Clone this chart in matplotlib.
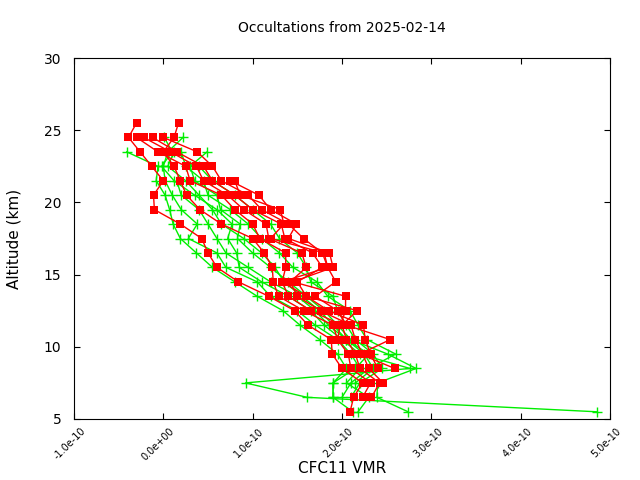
import numpy as np
import matplotlib
matplotlib.use("Agg")
import matplotlib.pyplot as plt
from matplotlib.ticker import FuncFormatter
import matplotlib.transforms as mtransforms

nan = np.nan
# altitude levels (km), top to bottom
alts = [25.5, 24.5, 23.5, 22.5, 21.5, 20.5, 19.5, 18.5, 17.5, 16.5, 15.5,
        14.5, 13.5, 12.5, 11.5, 10.5, 9.5, 8.5, 7.5, 6.5, 5.5]

# CFC11 VMR in units of 1e-10, one list per profile (nan = no data)
red_p0 = [-0.30, -0.39, -0.26, -0.13, 0.00, -0.11, -0.10, 0.19, 0.43, 0.50, 0.60,
          0.84, 1.18, 1.47, 1.62, 1.88, 1.89, 2.00, 2.23, 2.13, 2.09]
red_p1 = [0.17, 0.12, 0.00, 0.12, 0.19, 0.26, 0.41, 0.65, 1.00, 1.13, 1.22,
          1.23, 1.29, 1.57, 1.90, 1.95, 2.07, 2.10, 2.32, 2.23, nan]
red_p2 = [nan, -0.30, -0.06, 0.25, 0.30, 0.65, 0.80, 1.00, 1.08, 1.37, 1.37,
          1.33, 1.40, 1.65, 2.00, 2.05, 2.15, 2.20, 2.42, 2.33, nan]
red_p3 = [nan, -0.22, 0.08, 0.37, 0.45, 0.72, 0.90, 1.15, 1.18, 1.55, 1.60,
          1.42, 1.50, 1.76, 2.10, 2.15, 2.23, 2.30, 2.46, nan, nan]
red_p4 = [nan, -0.12, 0.15, 0.45, 0.55, 0.80, 1.00, 1.32, 1.36, 1.67, 1.78,
          1.50, 1.60, 1.85, 2.24, 2.26, 2.32, 2.40, nan, nan, nan]
red_p5 = [nan, 0.00, 0.38, 0.55, 0.65, 0.95, 1.10, 1.40, 1.57, 1.78, 1.84,
          1.93, 1.70, 1.95, 2.05, 2.54, 2.20, 2.59, nan, nan, nan]
red_p6 = [nan, nan, nan, nan, 0.75, 1.07, 1.20, 1.49, 1.40, 1.86, 1.90,
          1.45, 2.04, 2.04, 1.98, 1.95, nan, nan, nan, nan, nan]
red_p7 = [nan, nan, nan, nan, 0.80, 0.86, 1.31, 1.35, 1.20, 1.80, 1.84,
          1.33, 1.60, 2.17, 2.00, nan, nan, nan, nan, nan, nan]

green_p0 = [nan, nan, -0.41, -0.06, -0.08, 0.02, 0.07, 0.11, 0.19, 0.37, 0.55,
            0.80, 1.05, 1.34, 1.53, 1.75, 1.95, 2.05, 1.90, 1.90, 2.12]
green_p1 = [nan, 0.22, 0.05, 0.00, 0.02, 0.10, 0.20, 0.38, 0.28, 0.60, 0.70,
            1.05, 1.20, 1.50, 1.70, 1.95, 2.10, 2.20, 2.05, 2.30, 2.18]
green_p2 = [nan, 0.01, 0.10, -0.02, 0.12, 0.35, 0.60, 0.77, 0.72, 0.82, 0.85,
            1.10, 1.40, 1.65, 1.80, 2.00, 2.20, 2.76, 0.92, 1.61, 4.85]
green_p3 = [nan, nan, 0.49, 0.30, 0.35, 0.60, 0.64, 0.86, 0.83, 1.00, 1.20,
            1.40, 1.60, 1.80, 1.95, 2.10, 2.51, 2.83, 2.40, 2.39, 2.74]
green_p4 = [nan, nan, 0.20, 0.25, 0.45, 0.50, 0.75, 0.95, 1.10, 1.30, 1.45,
            1.72, 1.84, 2.09, 2.18, 2.28, 2.60, 2.30, 2.10, 2.00, nan]
green_p5 = [nan, nan, nan, 0.40, 0.55, 0.80, 1.00, 1.20, 1.30, 1.50, 1.60,
            1.65, 1.90, 1.95, 2.05, 2.15, 2.35, 2.45, 2.20, 2.10, nan]
green_p6 = [nan, nan, nan, nan, 0.15, 0.20, 0.40, 0.50, 0.60, 0.70, 0.95,
            1.20, 1.50, 1.70, 1.85, 2.05, 2.30, 2.15, 1.90, 1.90, nan]
green_p7 = [nan, nan, 0.12, 0.05, 0.25, 0.40, 0.55, 0.65, 0.90, 1.10, 1.25,
            1.35, 1.55, 1.75, 1.90, 2.05, 2.25, 2.35, 2.15, nan, nan]

red_profiles = [red_p0, red_p1, red_p2, red_p3, red_p4, red_p5, red_p6, red_p7]
green_profiles = [green_p0, green_p1, green_p2, green_p3, green_p4, green_p5,
                  green_p6, green_p7]

title = "Occultations from 2025-02-14"
xlabel = "CFC11 VMR"
ylabel = "Altitude (km)"
scale = 1e-10

fig = plt.figure(figsize=(6.4, 4.8), dpi=100)
ax = fig.add_axes([74/640, 61/480, 536/640, 361/480])

alt_arr = np.array(alts)
for g in green_profiles:
    v = np.array(g) * scale
    m = ~np.isnan(v)
    ax.plot(v[m], alt_arr[m], color='#00ee00', lw=1.0, marker='+',
            markersize=7, markeredgewidth=1.0, zorder=2)
for r in red_profiles:
    v = np.array(r) * scale
    m = ~np.isnan(v)
    ax.plot(v[m], alt_arr[m], color='#ff0000', lw=1.0, marker='s',
            markersize=5.5, markeredgewidth=0, zorder=3)

ax.set_xlim(-1e-10, 5e-10)
ax.set_ylim(5, 30)
ax.set_xticks(np.arange(-1, 6) * 1e-10)
ax.set_yticks([5, 10, 15, 20, 25, 30])
ax.xaxis.set_major_formatter(FuncFormatter(lambda v, p: "%.1e" % (0.0 if abs(v) < 1e-20 else v)))
ax.tick_params(direction='in', top=True, right=True, length=4)
ax.tick_params(axis='y', labelsize=10, pad=9)
ax.tick_params(axis='x', labelsize=7, pad=5)
offset = mtransforms.ScaledTranslation(6/100, 0, fig.dpi_scale_trans)
for lab in ax.get_xticklabels():
    lab.set_rotation(45)
    lab.set_ha('right')
    lab.set_va('top')
    lab.set_rotation_mode('anchor')
    lab.set_transform(lab.get_transform() + offset)

ax.set_title(title, fontsize=10, pad=19)
ax.set_xlabel(xlabel, fontsize=11, labelpad=-1)
ax.set_ylabel(ylabel, fontsize=11, labelpad=16)

fig.savefig("out.png", dpi=100)
